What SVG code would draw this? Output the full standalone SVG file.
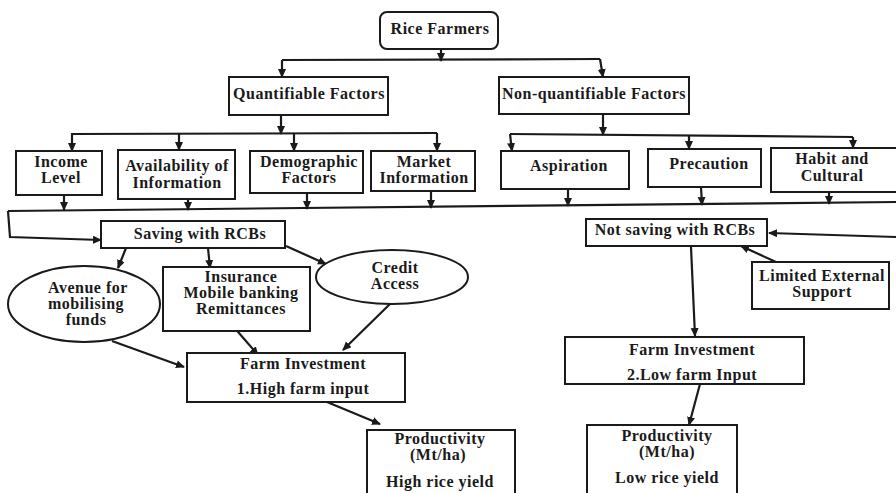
<svg xmlns="http://www.w3.org/2000/svg" width="896" height="493" viewBox="0 0 896 493">
<defs>
<marker id="ah" markerUnits="userSpaceOnUse" markerWidth="10" markerHeight="10" refX="8" refY="4" orient="auto">
<path d="M0,0 L9,4 L0,8 Z" fill="#1a1a1a"/>
</marker>
<style>
.box{fill:#fff;stroke:#1a1a1a;stroke-width:2}
.t{font-family:"Liberation Serif","Times New Roman",serif;font-weight:bold;font-size:16px;letter-spacing:0.5px;fill:#1a1a1a;text-anchor:middle}
.c{fill:none;stroke:#1a1a1a;stroke-width:2.2}
.a{fill:none;stroke:#1a1a1a;stroke-width:2.2;marker-end:url(#ah)}
</style>
</defs>
<rect width="896" height="493" fill="#fff"/>
<g id="connectors">
<line class="a" x1="441" y1="49" x2="441" y2="61"/>
<polyline class="c" points="282,60 600,59"/>
<line class="a" x1="282" y1="60" x2="282" y2="77"/>
<line class="a" x1="600" y1="59" x2="603" y2="77"/>
<line class="a" x1="281" y1="115" x2="281" y2="134"/>
<line class="c" x1="71" y1="134" x2="437" y2="133"/>
<line class="a" x1="72" y1="134" x2="72" y2="151"/>
<line class="a" x1="179" y1="134" x2="179" y2="150"/>
<line class="a" x1="294" y1="133" x2="294" y2="151"/>
<line class="a" x1="437" y1="133" x2="437" y2="151"/>
<line class="a" x1="603" y1="114" x2="603" y2="135"/>
<line class="c" x1="510" y1="134" x2="853" y2="137"/>
<line class="a" x1="510" y1="134" x2="512" y2="151"/>
<line class="a" x1="689" y1="136" x2="689" y2="149"/>
<line class="a" x1="853" y1="137" x2="853" y2="148"/>
<line class="a" x1="64" y1="195" x2="64" y2="210"/>
<line class="a" x1="188" y1="199" x2="188" y2="210"/>
<line class="a" x1="307" y1="193" x2="307" y2="209"/>
<line class="a" x1="431" y1="191" x2="431" y2="208"/>
<line class="a" x1="568" y1="189" x2="568" y2="206"/>
<line class="a" x1="701" y1="187" x2="702" y2="205"/>
<line class="a" x1="829" y1="192" x2="829" y2="204"/>
<line class="c" x1="8" y1="211" x2="896" y2="202"/>
<polyline class="a" points="8,211 10,237 101,240"/>
<line class="a" x1="126" y1="248" x2="118" y2="268"/>
<line class="a" x1="208" y1="248" x2="210" y2="268"/>
<line class="a" x1="286" y1="246" x2="326" y2="264"/>
<line class="a" x1="112" y1="341" x2="184" y2="367"/>
<line class="a" x1="232" y1="325" x2="258" y2="355"/>
<line class="a" x1="391" y1="303" x2="343" y2="350"/>
<line class="a" x1="327" y1="402" x2="380" y2="424"/>
<line class="a" x1="896" y1="237" x2="769" y2="233"/>
<line class="a" x1="776" y1="262" x2="741" y2="246"/>
<line class="a" x1="691" y1="247" x2="695" y2="336"/>
<line class="a" x1="700" y1="384" x2="689" y2="425"/>
</g>
<g id="rice-farmers"><rect class="box" x="380" y="12" width="118" height="37" rx="7"/><text class="t" x="440" y="34">Rice Farmers</text></g>
<g id="quantifiable"><rect class="box" x="229" y="77" width="159" height="38"/><text class="t" x="309" y="99">Quantifiable Factors</text></g>
<g id="non-quantifiable"><rect class="box" x="499" y="77" width="190" height="37"/><text class="t" x="594" y="99">Non-quantifiable Factors</text></g>
<g id="income"><rect class="box" x="16" y="151" width="86" height="44"/><text class="t" x="61" y="167">Income</text><text class="t" x="61" y="183">Level</text></g>
<g id="availability"><rect class="box" x="118" y="150" width="117" height="49"/><text class="t" x="177" y="171">Availability of</text><text class="t" x="177" y="188">Information</text></g>
<g id="demographic"><rect class="box" x="250" y="151" width="113" height="42"/><text class="t" x="309" y="167">Demographic</text><text class="t" x="309" y="183">Factors</text></g>
<g id="market"><rect class="box" x="371" y="151" width="104" height="40"/><text class="t" x="424" y="167">Market</text><text class="t" x="424" y="183">Information</text></g>
<g id="aspiration"><rect class="box" x="501" y="151" width="128" height="38"/><text class="t" x="569" y="171">Aspiration</text></g>
<g id="precaution"><rect class="box" x="648" y="149" width="113" height="38"/><text class="t" x="709" y="169">Precaution</text></g>
<g id="habit"><rect class="box" x="771" y="148" width="130" height="44"/><text class="t" x="832" y="164">Habit and</text><text class="t" x="832" y="181">Cultural</text></g>
<g id="saving"><rect class="box" x="101" y="221" width="184" height="27"/><text class="t" x="200" y="239">Saving with RCBs</text></g>
<g id="avenue"><ellipse class="box" cx="84" cy="304" rx="76" ry="38"/><text class="t" x="88" y="293">Avenue for</text><text class="t" x="86" y="309">mobilising</text><text class="t" x="86" y="325">funds</text></g>
<g id="insurance"><rect class="box" x="163" y="267" width="147" height="64"/><text class="t" x="241" y="282">Insurance</text><text class="t" x="241" y="298">Mobile banking</text><text class="t" x="241" y="314">Remittances</text></g>
<g id="credit"><ellipse class="box" cx="392" cy="277" rx="76" ry="27"/><text class="t" x="395" y="273">Credit</text><text class="t" x="395" y="289">Access</text></g>
<g id="farm-high"><rect class="box" x="187" y="353" width="218" height="49"/><text class="t" x="303" y="369">Farm Investment</text><text class="t" x="303" y="394">1.High farm input</text></g>
<g id="prod-high"><rect class="box" x="367" y="430" width="148" height="66"/><text class="t" x="440" y="444">Productivity</text><text class="t" x="438" y="460">(Mt/ha)</text><text class="t" x="440" y="487">High rice yield</text></g>
<g id="not-saving"><rect class="box" x="586" y="219" width="181" height="27"/><text class="t" x="675" y="235">Not saving with RCBs</text></g>
<g id="limited"><rect class="box" x="752" y="262" width="137" height="47"/><text class="t" x="822" y="281">Limited External</text><text class="t" x="822" y="297">Support</text></g>
<g id="farm-low"><rect class="box" x="565" y="337" width="239" height="47"/><text class="t" x="692" y="355">Farm Investment</text><text class="t" x="692" y="380">2.Low farm Input</text></g>
<g id="prod-low"><rect class="box" x="587" y="425" width="150" height="72"/><text class="t" x="667" y="441">Productivity</text><text class="t" x="667" y="457">(Mt/ha)</text><text class="t" x="667" y="483">Low rice yield</text></g>
</svg>
